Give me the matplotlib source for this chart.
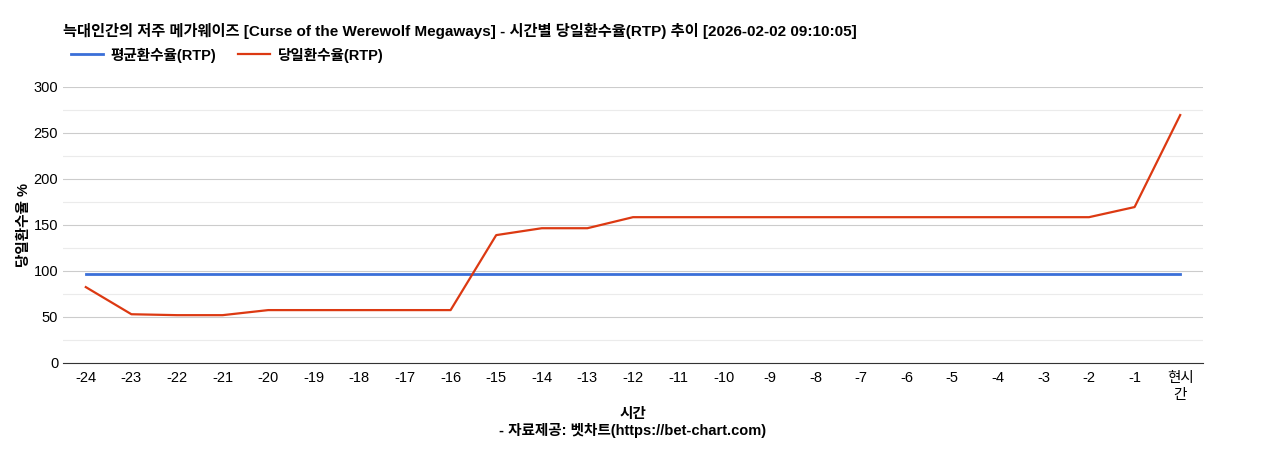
import matplotlib
matplotlib.use("Agg")
import matplotlib.pyplot as plt

plt.rcParams['font.family'] = ['Liberation Sans', 'Noto Sans CJK KR', 'DejaVu Sans']

hours = ["-24", "-23", "-22", "-21", "-20", "-19", "-18", "-17", "-16", "-15", "-14", "-13",
         "-12", "-11", "-10", "-9", "-8", "-7", "-6", "-5", "-4", "-3", "-2", "-1", "현시\n간"]
avg_rtp = [96.7] * 25
daily_rtp = [82.5, 53, 52, 52, 57.5, 57.5, 57.5, 57.5, 57.5, 139, 146.5, 146.5,
             158.5, 158.5, 158.5, 158.5, 158.5, 158.5, 158.5, 158.5, 158.5, 158.5, 158.5, 169.5, 269.5]

fig = plt.figure(figsize=(12.68, 4.5), dpi=100)
ax = fig.add_axes([63 / 1268, 1 - 363 / 450, 1140 / 1268, 276 / 450])

x = range(len(hours))
l1, = ax.plot(x, avg_rtp, color="#3a6fd8", lw=2, label="평균환수율(RTP)")
l2, = ax.plot(x, daily_rtp, color="#dc3912", lw=1.6, label="당일환수율(RTP)")

ax.set_xlim(-0.5, len(hours) - 0.5)
ax.set_ylim(0, 300)
ax.set_yticks(range(0, 301, 50))
ax.set_yticks(range(25, 300, 50), minor=True)
ax.grid(axis="y", which="major", color="#cccccc", lw=0.8)
ax.grid(axis="y", which="minor", color="#ebebeb", lw=0.8)
ax.set_axisbelow(True)
ax.set_xticks(list(x))
ax.set_xticklabels(hours, fontsize=10.5)
ax.tick_params(axis="y", labelsize=10.5, length=0)
ax.tick_params(axis="x", length=0, pad=6)
ax.tick_params(axis="y", which="minor", length=0)
for s in ["top", "right", "left"]:
    ax.spines[s].set_visible(False)
ax.spines["bottom"].set_color("#333333")

ax.set_ylabel("당일환수율 %", fontsize=10.5, fontweight="bold", labelpad=2)
ax.set_xlabel("시간\n- 자료제공: 벳차트(https://bet-chart.com)", fontsize=10.5, fontweight="bold", labelpad=4)

fig.text(63 / 1268, 1 - 31 / 450, "늑대인간의 저주 메가웨이즈 [Curse of the Werewolf Megaways] - 시간별 당일환수율(RTP) 추이 [2026-02-02 09:10:05]",
         fontsize=11, fontweight="bold", va="center")
fig.legend(handles=[l1, l2], loc="center left", bbox_to_anchor=(58 / 1268, 1 - 55 / 450),
           ncol=2, frameon=False, prop={"weight": "bold", "size": 10.5}, handlelength=2.2,
           columnspacing=1.5, handletextpad=0.5)

fig.savefig("out.png", dpi=100)
